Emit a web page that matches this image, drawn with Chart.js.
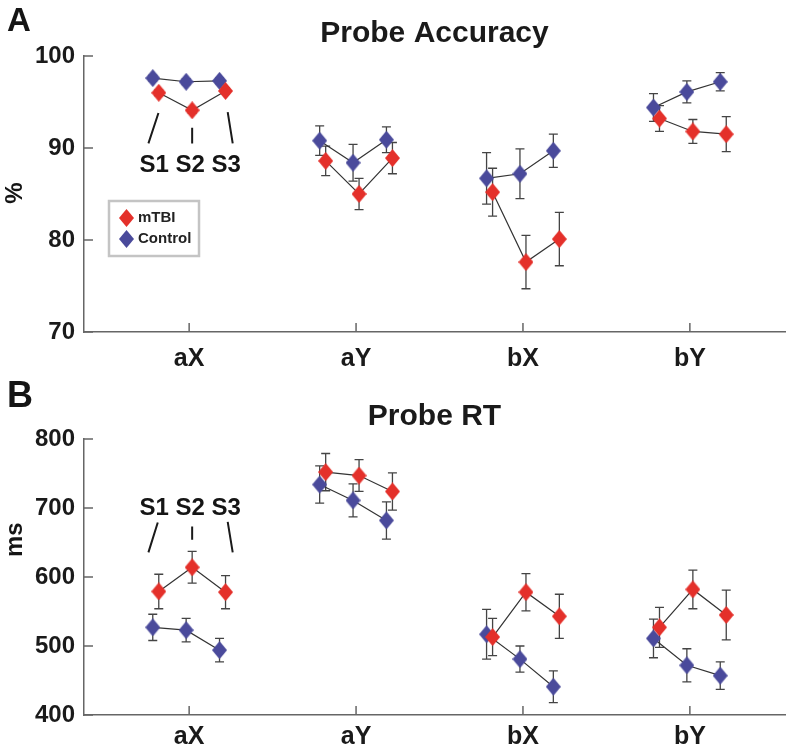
<!DOCTYPE html>
<html>
<head>
<meta charset="utf-8">
<script src="https://cdn.jsdelivr.net/npm/chart.js@4.4.0/dist/chart.umd.min.js"></script>
<style>
  body { margin: 0; background: #fff; }
  canvas { display: block; }
</style>
</head>
<body>
<canvas id="accuracy" width="788" height="375"></canvas>
<canvas id="rt" width="788" height="375"></canvas>
<script>
// --- data (S1, S2, S3 for each condition) ---
const categories = ['aX', 'aY', 'bX', 'bY'];
const sessions = ['S1', 'S2', 'S3'];

const accMtbi       = [96.0, 94.1, 96.2,  88.6, 85.0, 88.9,  85.2, 77.6, 80.1,  93.2, 91.8, 91.5];
const accMtbiErr    = [0.3, 0.3, 0.3,     1.6, 1.7, 1.7,     2.6, 2.9, 2.9,     1.4, 1.3, 1.9];
const accControl    = [97.6, 97.2, 97.3,  90.8, 88.4, 90.9,  86.7, 87.2, 89.7,  94.4, 96.1, 97.2];
const accControlErr = [0.3, 0.3, 0.3,     1.6, 2.0, 1.4,     2.8, 2.7, 1.8,     1.5, 1.2, 1.0];

const rtMtbi       = [579, 614, 578,  752, 747, 724,  513, 578, 543,  527, 582, 545];
const rtMtbiErr    = [25, 23, 24,     27, 23, 27,     27, 27, 32,     29, 28, 36];
const rtControl    = [527, 523, 494,  734, 711, 682,  517, 481, 441,  511, 472, 457];
const rtControlErr = [19, 17, 17,     27, 24, 27,     36, 19, 23,     28, 24, 20];

const accTicks = [70, 80, 90, 100];
const rtTicks = [400, 500, 600, 700, 800];

// --- look ---
const RED = '#e4302a';
const BLUE = '#4a4a9b';
const FONT = '"Liberation Sans", Arial, sans-serif';
const sessOffset = [-0.2, 0, 0.2];
const groupOffset = { mTBI: 0.018, Control: -0.018 };

function diamond(color) {
    const c = document.createElement('canvas');
    c.width = 15; c.height = 18;
    const g = c.getContext('2d');
    g.fillStyle = color;
    g.beginPath();
    g.moveTo(7.5, 0); g.lineTo(15, 9); g.lineTo(7.5, 18); g.lineTo(0, 9);
    g.closePath();
    g.fill();
    return c;
}
const redMark = diamond(RED);
const blueMark = diamond(BLUE);

// one small line per group per condition, mTBI first so it sits on top
function buildDatasets(mtbi, mtbiErr, ctrl, ctrlErr) {
    const groups = [
        { name: 'mTBI', vals: mtbi, errs: mtbiErr, img: redMark },
        { name: 'Control', vals: ctrl, errs: ctrlErr, img: blueMark }
    ];
    const sets = [];
    groups.forEach(g => {
        categories.forEach((cat, c) => {
            sets.push({
                label: g.name,
                data: sessions.map((s, i) => ({ x: c + 1 + sessOffset[i] + groupOffset[g.name], y: g.vals[c * 3 + i] })),
                errors: sessions.map((s, i) => g.errs[c * 3 + i]),
                borderColor: '#333',
                borderWidth: 1.2,
                pointStyle: g.img,
                pointRadius: 8,
                pointHoverRadius: 8
            });
        });
    });
    return sets;
}

const errorBars = {
    id: 'errorBars',
    beforeDatasetsDraw(chart) {
        const ctx = chart.ctx, ys = chart.scales.y;
        ctx.save();
        ctx.strokeStyle = '#444';
        ctx.lineWidth = 1.3;
        chart.data.datasets.forEach((ds, i) => {
            chart.getDatasetMeta(i).data.forEach((pt, j) => {
                const v = ds.data[j].y, e = ds.errors[j];
                const top = ys.getPixelForValue(v + e), bot = ys.getPixelForValue(v - e);
                ctx.beginPath();
                ctx.moveTo(pt.x, top); ctx.lineTo(pt.x, bot);
                ctx.moveTo(pt.x - 4.5, top); ctx.lineTo(pt.x + 4.5, top);
                ctx.moveTo(pt.x - 4.5, bot); ctx.lineTo(pt.x + 4.5, bot);
                ctx.stroke();
            });
        });
        ctx.restore();
    }
};

// inward ticks, panel letter, y title, S1/S2/S3 guide and legend box
const annotate = {
    id: 'annotate',
    afterDraw(chart, args, o) {
        const ctx = chart.ctx, xs = chart.scales.x, ys = chart.scales.y, area = chart.chartArea;
        ctx.save();
        ctx.strokeStyle = '#666';
        ctx.lineWidth = 1.5;
        ctx.beginPath();
        xs.ticks.forEach(t => {
            const px = xs.getPixelForValue(t.value);
            ctx.moveTo(px, area.bottom); ctx.lineTo(px, area.bottom - 9);
        });
        ys.ticks.forEach(t => {
            const py = ys.getPixelForValue(t.value);
            ctx.moveTo(area.left, py); ctx.lineTo(area.left + 9, py);
        });
        ctx.stroke();

        ctx.fillStyle = '#151515';
        ctx.font = 'bold ' + o.letterSize + 'px ' + FONT;
        ctx.textAlign = 'left';
        ctx.textBaseline = 'alphabetic';
        ctx.fillText(o.letter, 7, o.letterY);

        // y axis title
        ctx.save();
        ctx.font = 'bold 24px ' + FONT;
        ctx.textAlign = 'center';
        ctx.textBaseline = 'middle';
        ctx.translate(15, ys.getPixelForValue(o.yTitleAt));
        ctx.rotate(-Math.PI / 2);
        ctx.fillText(o.yTitle, 0, 0);
        ctx.restore();

        // S1 S2 S3 guide over the first condition
        const sx = v => xs.getPixelForValue(1 + v);
        ctx.font = 'bold 24px ' + FONT;
        ctx.textAlign = 'center';
        ctx.textBaseline = 'middle';
        ctx.fillText(sessions.join(' '), sx(0.006), ys.getPixelForValue(o.guideTextAt));
        ctx.strokeStyle = '#1a1a1a';
        ctx.lineWidth = 2;
        ctx.beginPath();
        o.guideLines.forEach(l => {
            ctx.moveTo(sx(l[0]), ys.getPixelForValue(l[1]));
            ctx.lineTo(sx(l[2]), ys.getPixelForValue(l[3]));
        });
        ctx.stroke();

        if (o.legend) {
            const lx = area.left + 25, ly = area.top + 145;
            ctx.fillStyle = '#fff';
            ctx.fillRect(lx, ly, 90, 55);
            ctx.strokeStyle = '#c4c4c4';
            ctx.lineWidth = 2.5;
            ctx.strokeRect(lx, ly, 90, 55);
            ctx.drawImage(redMark, lx + 10, ly + 8);
            ctx.drawImage(blueMark, lx + 10, ly + 29);
            ctx.fillStyle = '#222';
            ctx.font = 'bold 15px ' + FONT;
            ctx.textAlign = 'left';
            ctx.textBaseline = 'middle';
            ctx.fillText('mTBI', lx + 29, ly + 17);
            ctx.fillText('Control', lx + 29, ly + 38);
        }
        ctx.restore();
    }
};

function makePanel(id, opts) {
    return new Chart(document.getElementById(id), {
        type: 'line',
        data: { datasets: opts.datasets },
        plugins: [errorBars, annotate],
        options: {
            responsive: false,
            animation: false,
            devicePixelRatio: 1,
            layout: { autoPadding: false, padding: { left: 0, right: 3, top: 0, bottom: 0 } },
            plugins: {
                legend: { display: false },
                tooltip: { enabled: false },
                title: {
                    display: true,
                    text: opts.title,
                    fullSize: false,
                    color: '#1a1a1a',
                    font: { family: FONT, size: 30, weight: 'bold', lineHeight: 1.2 },
                    padding: opts.titlePad
                },
                annotate: opts.annot
            },
            scales: {
                x: {
                    type: 'linear',
                    min: 0.37,
                    max: 4.57,
                    grid: { display: false, drawTicks: false },
                    border: { display: true, color: '#666', width: 1.5 },
                    afterBuildTicks: s => { s.ticks = categories.map((c, i) => ({ value: i + 1 })); },
                    ticks: {
                        callback: v => categories[v - 1],
                        color: '#1a1a1a',
                        padding: opts.xPad,
                        maxRotation: 0,
                        font: { family: FONT, size: 25, weight: 'bold' }
                    },
                    afterFit: s => { s.height = opts.xHeight; }
                },
                y: {
                    min: opts.yTicks[0],
                    max: opts.yTicks[opts.yTicks.length - 1],
                    grid: { display: false, drawTicks: false },
                    border: { display: true, color: '#666', width: 1.5 },
                    afterBuildTicks: s => { s.ticks = opts.yTicks.map(v => ({ value: v })); },
                    ticks: {
                        color: '#1a1a1a',
                        padding: 9,
                        font: { family: FONT, size: 24, weight: 'bold' }
                    },
                    afterFit: s => { s.width = 84; }
                }
            }
        }
    });
}

makePanel('accuracy', {
    datasets: buildDatasets(accMtbi, accMtbiErr, accControl, accControlErr),
    title: 'Probe Accuracy',
    titlePad: { top: 16, bottom: 4 },
    yTicks: accTicks,
    xPad: 12,
    xHeight: 43,
    annot: {
        letter: 'A', letterSize: 33, letterY: 31,
        yTitle: '%', yTitleAt: 85.1,
        guideTextAt: 88.15,
        guideLines: [[-0.184, 93.8, -0.244, 90.5], [0.018, 92.2, 0.018, 90.5], [0.231, 93.9, 0.261, 90.5]],
        legend: true
    }
});

makePanel('rt', {
    datasets: buildDatasets(rtMtbi, rtMtbiErr, rtControl, rtControlErr),
    title: 'Probe RT',
    titlePad: { top: 24, bottom: 4 },
    yTicks: rtTicks,
    xPad: 7,
    xHeight: 35,
    annot: {
        letter: 'B', letterSize: 36, letterY: 32,
        yTitle: 'ms', yTitleAt: 654,
        guideTextAt: 700,
        guideLines: [[-0.188, 679, -0.244, 635.7], [0.018, 673.3, 0.018, 654], [0.231, 680, 0.261, 635.7]],
        legend: false
    }
});
</script>
</body>
</html>
